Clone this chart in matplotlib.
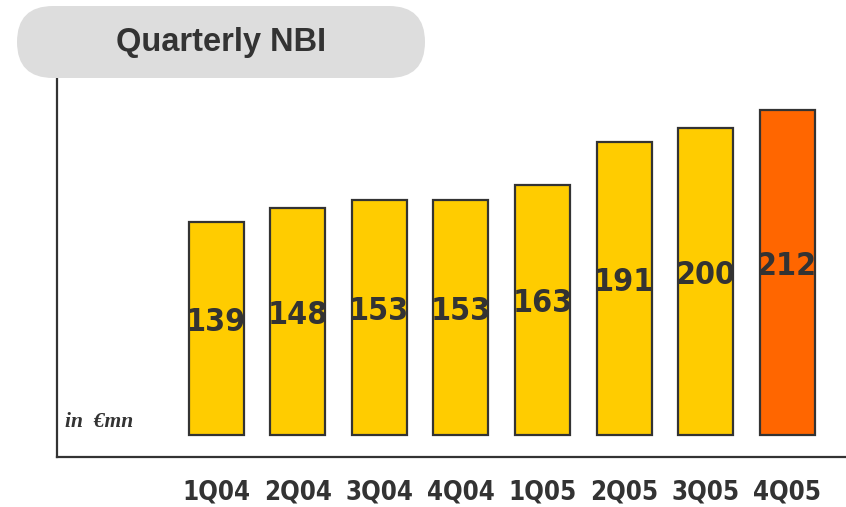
import matplotlib
matplotlib.use("Agg")
import matplotlib.pyplot as plt
from matplotlib.patches import FancyBboxPatch
from matplotlib import font_manager

quarters = ["1Q04", "2Q04", "3Q04", "4Q04", "1Q05", "2Q05", "3Q05", "4Q05"]
nbi = [139, 148, 153, 153, 163, 191, 200, 212]
colors = ["#FFCC00"] * 7 + ["#FF6600"]

W, H = 846, 507
fig = plt.figure(figsize=(W / 100, H / 100), dpi=100)
fig.patch.set_facecolor("white")

narrow_cands = [f.fname for f in font_manager.fontManager.ttflist
                if ("narrow" in f.fname.lower() or "condensed" in f.fname.lower())
                and "bold" in f.fname.lower()]
narrow_font = None
for fn in narrow_cands:
    if "oblique" not in fn.lower() and "italic" not in fn.lower():
        narrow_font = fn
        break

def nfp(size):
    if narrow_font:
        return font_manager.FontProperties(fname=narrow_font, size=size)
    return font_manager.FontProperties(family="DejaVu Sans", weight="bold",
                                       stretch="condensed", size=size)

dark = "#333333"

ax = fig.add_axes([57 / W, 1 - 457 / H, (W - 57) / W, (457 - 78) / H])
x = list(range(len(quarters)))
ax.bar(x, nbi, width=0.674, color=colors, edgecolor=dark, linewidth=1.6, zorder=3)
ax.set_xlim(-1.949, 7.72)
ax.set_ylim(-14.3, 232.6)

for xi, v in zip(x, nbi):
    ax.text(xi, v * 0.5 + 4, str(v), ha="center", va="center",
            fontproperties=nfp(23), color=dark, zorder=4)

ax.set_xticks(x)
ax.set_xticklabels(quarters, fontproperties=nfp(18.5), color=dark)
ax.tick_params(axis="x", length=0, pad=16)
ax.set_yticks([])
for s in ["top", "right"]:
    ax.spines[s].set_visible(False)
for s in ["left", "bottom"]:
    ax.spines[s].set_color(dark)
    ax.spines[s].set_linewidth(1.6)

ax.text(65 / W, 1 - 422 / H, "in  €mn", transform=fig.transFigure, ha="left", va="center",
        fontsize=15.5, fontstyle="italic", fontweight="bold",
        family=["Liberation Serif", "DejaVu Serif"], color=dark)

box = FancyBboxPatch((0.17, (H - 78) / 100), 4.08, 0.72,
                     boxstyle="round,pad=0,rounding_size=0.36",
                     transform=fig.dpi_scale_trans, facecolor="#DDDDDD",
                     edgecolor="none", zorder=5)
fig.patches.append(box)
fig.text(221 / W, 1 - 42 / H, "Quarterly NBI", ha="center", va="center",
         fontsize=23.5, fontweight="bold", family=["Liberation Sans", "DejaVu Sans"],
         color=dark, zorder=6)

fig.savefig("out.png", dpi=100)
